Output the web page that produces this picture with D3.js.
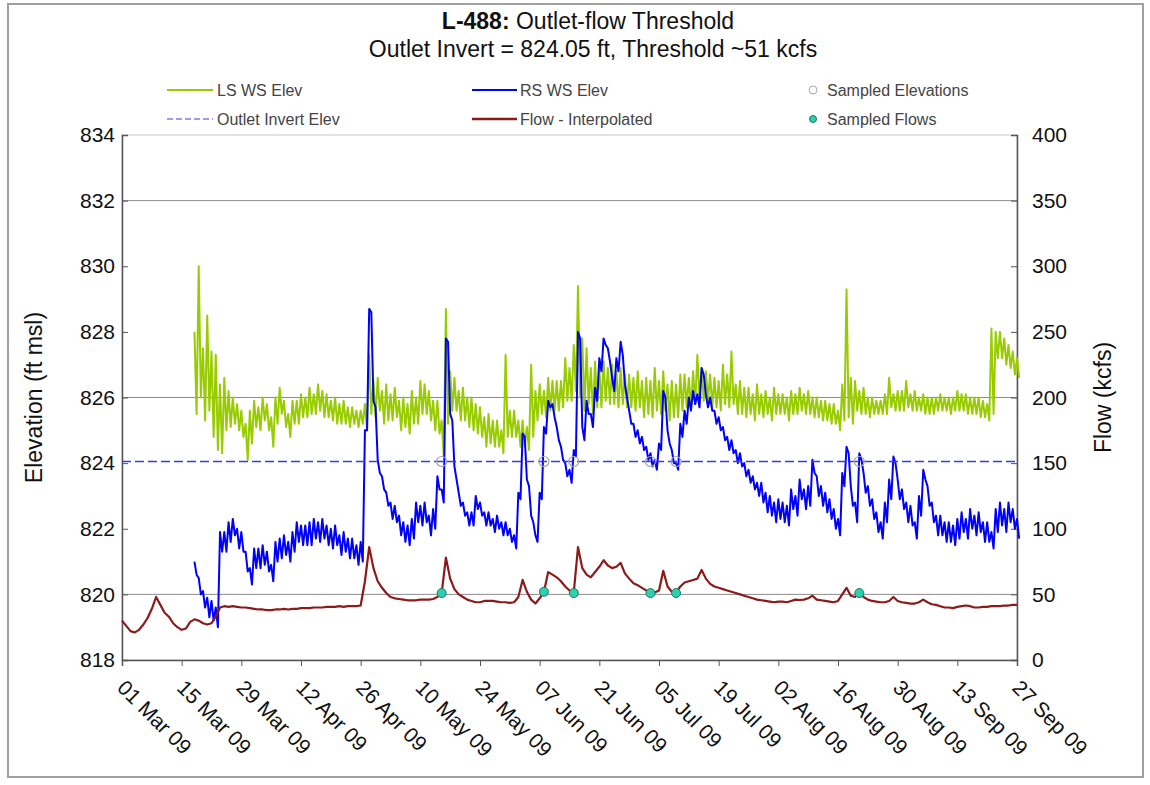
<!DOCTYPE html>
<html>
<head>
<meta charset="utf-8">
<script src="https://cdn.jsdelivr.net/npm/d3@7"></script>
<style>
  html, body { margin: 0; padding: 0; background: #ffffff; }
  svg { display: block; font-family: "Liberation Sans", Arial, sans-serif; }
</style>
</head>
<body>
<svg id="chart" width="1150" height="785"></svg>
<script>
// ---------------- DATA ----------------
const tickLabels = ["01 Mar 09","15 Mar 09","29 Mar 09","12 Apr 09","26 Apr 09","10 May 09","24 May 09",
  "07 Jun 09","21 Jun 09","05 Jul 09","19 Jul 09","02 Aug 09","16 Aug 09","30 Aug 09","13 Sep 09","27 Sep 09"];
const elevTicks = [818, 820, 822, 824, 826, 828, 830, 832, 834];
const flowTicks = [0, 50, 100, 150, 200, 250, 300, 350, 400];
const gridElev = [820, 826, 832];

// LS WS Elev (ft msl): daily high / daily low, starting 18 Mar 09
const lsStart = "2009-03-18";
const lsHigh = [
  828.0, 830.0, 827.5, 828.5, 827.4, 827.3, 826.4, 826.6, 826.2, 826.0,
  825.8, 825.6, 825.2, 825.6, 825.9, 825.7, 826.0, 825.8, 825.4, 826.0,
  826.3, 825.9, 825.5, 825.9, 825.9, 826.1, 826.0, 826.3, 826.1, 826.4,
  826.2, 826.1, 825.9, 826.0, 825.8, 825.9, 825.7, 825.7, 825.6, 825.6,
  825.8, 827.3, 826.5, 826.6, 826.2, 826.4, 826.1, 826.3, 825.9, 826.0,
  825.8, 826.2, 826.0, 826.5, 826.4, 826.2, 825.9, 825.9, 825.3, 828.7,
  826.8, 826.6, 826.2, 826.3, 826.0, 826.0, 825.8, 825.7, 825.4, 825.5,
  825.3, 825.3, 825.0, 827.3, 825.6, 825.6, 825.3, 825.3, 825.1, 827.0,
  826.2, 826.4, 826.2, 826.6, 826.5, 826.5, 826.5, 827.2, 826.9, 827.6,
  829.4, 827.8, 827.5, 826.9, 827.1, 826.9, 827.1, 826.9, 827.0, 826.8,
  826.9, 826.7, 826.7, 826.6, 826.8, 826.5, 826.6, 826.5, 826.9, 826.5,
  826.8, 826.4, 826.5, 826.4, 826.7, 826.7, 826.6, 826.8, 827.3, 826.9,
  826.8, 826.7, 826.6, 826.5, 827.0, 826.7, 827.4, 826.4, 826.5, 826.3,
  826.3, 826.1, 826.4, 826.1, 826.2, 826.0, 826.3, 826.1, 826.1, 826.0,
  826.2, 826.1, 826.3, 826.1, 826.2, 826.0, 826.0, 825.9, 825.9, 825.8,
  825.8, 825.6, 826.4, 829.3, 826.6, 826.5, 826.2, 826.3, 826.0, 826.0,
  825.9, 825.9, 826.1, 826.6, 826.1, 826.2, 826.2, 826.5, 826.1, 826.2,
  826.0, 826.1, 826.0, 826.0, 826.0, 826.1, 826.0, 826.0, 826.0, 826.2,
  826.1, 826.1, 826.0, 826.0, 826.0, 825.9, 825.8, 828.1, 828.0, 828.0,
  827.8, 827.6, 827.4, 827.2
];
const lsLow = [
  825.5, 826.0, 825.3, 825.6, 824.8, 824.4, 824.3, 825.0, 825.1, 825.2,
  825.0, 824.8, 824.1, 824.6, 825.1, 825.0, 825.3, 825.0, 824.5, 825.2,
  825.5, 825.1, 824.8, 825.2, 825.2, 825.4, 825.4, 825.5, 825.5, 825.6,
  825.4, 825.4, 825.3, 825.2, 825.2, 825.2, 825.1, 825.2, 825.1, 825.2,
  825.0, 825.5, 825.4, 825.6, 825.2, 825.3, 825.3, 825.4, 825.0, 825.1,
  824.9, 825.2, 825.2, 825.5, 825.5, 825.3, 825.0, 824.9, 824.2, 825.2,
  825.6, 825.6, 825.3, 825.3, 825.1, 825.0, 824.9, 824.8, 824.5, 824.6,
  824.5, 824.5, 824.3, 824.8, 824.8, 824.8, 824.5, 824.5, 824.4, 824.8,
  825.3, 825.5, 825.4, 825.6, 825.6, 825.6, 825.7, 825.9, 825.9, 826.2,
  826.0, 825.6, 825.8, 825.5, 825.7, 825.7, 825.9, 825.8, 825.8, 825.7,
  825.8, 825.7, 825.7, 825.6, 825.7, 825.4, 825.5, 825.4, 825.6, 825.5,
  825.6, 825.3, 825.4, 825.4, 825.6, 825.7, 825.7, 825.8, 826.0, 825.9,
  825.9, 825.7, 825.7, 825.6, 825.8, 825.7, 825.8, 825.5, 825.5, 825.4,
  825.5, 825.3, 825.5, 825.4, 825.5, 825.3, 825.5, 825.5, 825.5, 825.3,
  825.5, 825.5, 825.6, 825.5, 825.5, 825.4, 825.4, 825.3, 825.3, 825.2,
  825.2, 825.0, 825.3, 825.4, 825.2, 825.6, 825.5, 825.5, 825.4, 825.5,
  825.5, 825.5, 825.5, 825.7, 825.6, 825.6, 825.6, 825.7, 825.6, 825.6,
  825.6, 825.5, 825.5, 825.5, 825.6, 825.6, 825.6, 825.5, 825.6, 825.6,
  825.6, 825.5, 825.5, 825.5, 825.4, 825.4, 825.3, 825.5, 827.2, 827.2,
  827.0, 826.9, 826.7, 826.6
];

// RS WS Elev (ft msl): daily high / daily low, starting 18 Mar 09
const rsStart = "2009-03-18";
const rsHigh = [
  821.0, 820.5, 820.1, 819.9, 819.8, 819.6, 821.9, 821.9, 822.2, 822.3,
  822.0, 821.9, 821.3, 820.8, 821.4, 821.4, 821.5, 821.3, 820.9, 821.6,
  821.7, 821.8, 821.6, 821.9, 822.2, 822.1, 822.1, 822.2, 822.3, 822.2,
  822.3, 822.1, 822.0, 822.1, 821.8, 821.9, 821.7, 821.7, 821.5, 821.6,
  825.0, 828.7, 825.9, 824.1, 823.6, 823.1, 822.8, 822.7, 822.4, 822.2,
  822.1, 822.3, 822.8, 822.7, 822.8, 822.4, 822.6, 823.6, 823.2, 827.8,
  825.5, 823.9, 823.1, 822.8, 822.5, 822.5, 823.0, 822.8, 822.5, 822.5,
  822.3, 822.4, 822.2, 822.2, 822.0, 821.8, 823.1, 824.9, 823.5, 822.4,
  821.8, 823.1, 825.1, 825.9, 825.8, 825.1, 824.5, 824.0, 823.8, 824.4,
  828.0, 825.1, 825.9, 825.5, 826.3, 827.2, 827.8, 827.5, 826.6, 827.2,
  827.7, 826.4, 825.6, 825.2, 825.0, 824.8, 824.5, 824.3, 824.1, 824.6,
  826.2, 825.0, 824.4, 824.0, 825.2, 825.6, 826.0, 826.2, 826.1, 826.9,
  826.1, 826.0, 825.6, 825.4, 825.1, 824.8, 824.7, 824.4, 824.3, 824.0,
  823.8, 823.6, 823.4, 823.4, 823.1, 823.0, 822.8, 822.9, 822.8, 822.7,
  823.2, 823.0, 823.5, 823.2, 823.3, 824.1, 823.6, 823.3, 823.1, 822.9,
  822.6, 822.3, 823.7, 824.5, 823.3, 822.8, 824.3, 823.7, 823.3, 822.9,
  822.5, 822.2, 822.8, 823.5, 824.2, 823.5, 823.2, 822.8, 822.7, 822.2,
  823.0, 823.8, 823.3, 822.8, 822.4, 822.4, 822.2, 822.2, 822.1, 822.3,
  822.5, 822.3, 822.6, 822.4, 822.5, 822.2, 822.2, 821.9, 822.6, 822.8,
  822.6, 822.8, 822.6, 822.3
];
const rsLow = [
  820.6, 820.0, 819.6, 819.3, 819.2, 819.0, 821.3, 821.3, 821.6, 821.8,
  821.4, 821.3, 820.7, 820.3, 820.8, 820.8, 820.9, 820.7, 820.4, 821.0,
  821.1, 821.2, 821.0, 821.3, 821.6, 821.5, 821.5, 821.5, 821.7, 821.6,
  821.7, 821.5, 821.4, 821.5, 821.2, 821.3, 821.1, 821.1, 820.9, 821.0,
  825.0, 828.6, 825.7, 823.7, 823.2, 822.7, 822.3, 822.2, 821.8, 821.6,
  821.5, 821.7, 822.2, 822.1, 822.2, 821.8, 822.0, 823.2, 822.8, 827.7,
  825.3, 823.5, 822.7, 822.4, 822.1, 822.1, 822.6, 822.4, 822.1, 822.1,
  821.9, 822.0, 821.8, 821.8, 821.6, 821.4, 822.9, 824.8, 823.3, 822.2,
  821.6, 822.9, 824.9, 825.7, 825.4, 824.7, 824.1, 823.6, 823.4, 824.2,
  827.8, 824.7, 825.5, 825.1, 825.9, 826.8, 827.6, 827.1, 826.2, 826.8,
  827.3, 826.0, 825.2, 824.8, 824.6, 824.4, 824.1, 823.9, 823.8, 824.4,
  826.0, 824.6, 824.0, 823.8, 824.8, 825.2, 825.6, 825.8, 825.7, 826.7,
  825.7, 825.6, 825.2, 825.0, 824.7, 824.4, 824.3, 824.0, 823.9, 823.6,
  823.4, 823.2, 823.0, 822.8, 822.5, 822.4, 822.2, 822.3, 822.2, 822.1,
  822.6, 822.4, 822.9, 822.6, 822.7, 823.7, 823.0, 822.7, 822.5, 822.3,
  822.0, 821.8, 823.3, 824.3, 822.7, 822.2, 824.1, 823.1, 822.7, 822.3,
  821.9, 821.7, 822.2, 822.9, 824.0, 822.9, 822.6, 822.2, 822.1, 821.7,
  822.4, 823.5, 822.7, 822.2, 821.8, 821.8, 821.6, 821.6, 821.5, 821.7,
  821.9, 821.7, 822.0, 821.8, 821.9, 821.6, 821.6, 821.4, 821.9, 822.1,
  821.9, 822.2, 822.0, 821.7
];

// Flow - Interpolated (kcfs), one value per day starting 01 Mar 09
const flowStart = "2009-03-01";
const flowKcfs = [
  30, 26, 22, 21, 23, 27, 32, 39, 48, 42,
  36, 33, 28, 25, 23, 24, 29, 31, 30, 28,
  27, 28, 33, 40, 41, 40.5, 41, 40.5, 40, 40,
  39.5, 39, 38.5, 38.5, 38, 38, 38.5, 38.5, 39, 38.5,
  39, 39, 39.5, 39.5, 39.5, 40, 40, 40, 40.5, 40.5,
  40.5, 41, 40.5, 41, 41, 41, 41.5, 60, 86, 70,
  60, 55, 51, 48, 47, 46.5, 46, 45.5, 45.5, 45.5,
  46, 46, 46, 46.5, 48, 51, 78, 62, 54, 50,
  48, 46, 45, 44, 44, 45, 45, 45, 44.5, 44,
  44, 43.5, 44, 48, 61, 52, 46, 43, 47, 52,
  67, 65, 63, 60, 56, 53, 51.5, 86, 70, 65,
  63, 67, 71, 76, 72, 70, 71, 74, 66, 62,
  58.5, 57, 55, 53, 52, 51.5, 53, 68, 56, 52,
  51.5, 56, 59, 60, 61, 62, 68.6, 62, 58, 56,
  55, 54, 53, 52, 51, 50, 49, 48, 47, 46,
  45.5, 45, 44.5, 44, 44.5, 44.5, 44, 45, 46, 45.7,
  46, 47, 49, 46, 45.5, 45, 44.5, 44, 45, 50,
  55, 49, 48, 51, 48, 46, 45, 44.5, 44, 44,
  45, 48, 45, 44, 43.5, 43, 43, 44, 46, 44,
  42.5, 42, 41, 40, 40, 39.5, 40.5, 41, 41.5, 41,
  40, 40, 40.5, 40.5, 41, 41, 41, 41.5, 41.5, 42,
  42
];

const outletInvert = 824.05;
const sampleDates = ["2009-05-15", "2009-06-08", "2009-06-15", "2009-07-03", "2009-07-09", "2009-08-21"];
const sampledElev = [824.05, 824.05, 824.05, 824.05, 824.05, 824.05];
const sampledFlow = [51, 52, 51, 51, 51, 51];

const legendLabels = ["LS WS Elev", "RS WS Elev", "Sampled Elevations", "Outlet Invert Elev", "Flow - Interpolated", "Sampled Flows"];

// ---------------- CHART ----------------
const svg = d3.select("#chart");
const parseISO = d3.utcParse("%Y-%m-%d");
const parseTick = d3.utcParse("%d %b %y");
const L = 122, R = 1017, T = 135, B = 660;

const x = d3.scaleUtc().domain([parseTick(tickLabels[0]), parseTick(tickLabels[tickLabels.length - 1])]).range([L, R]);
const yL = d3.scaleLinear().domain([818, 834]).range([B, T]);
const yR = d3.scaleLinear().domain([0, 400]).range([B, T]);

const C = { ls: "#99cc00", rs: "#0000ff", inv: "#3b3be6", flow: "#8b1a1a", grid: "#8c8c8c", axis: "#555555", text: "#111111" };
const FONT = "Liberation Sans, Arial, sans-serif";

// outer frame
svg.append("rect").attr("x", 8).attr("y", 4).attr("width", 1135).attr("height", 773)
  .attr("fill", "none").attr("stroke", "#a0a0a0").attr("stroke-width", 2);

// title
const title = svg.append("text").attr("x", 588).attr("y", 29).attr("text-anchor", "middle")
  .attr("font-size", 23).attr("fill", C.text);
title.append("tspan").attr("font-weight", "bold").text("L-488:");
title.append("tspan").text(" Outlet-flow Threshold");
svg.append("text").attr("x", 593).attr("y", 57).attr("text-anchor", "middle")
  .attr("font-size", 23).attr("fill", C.text).text("Outlet Invert = 824.05 ft, Threshold ~51 kcfs");

// plot border
svg.append("rect").attr("x", L).attr("y", T).attr("width", R - L).attr("height", B - T)
  .attr("fill", "none").attr("stroke", "#c8c8c8").attr("stroke-width", 1);

// gridlines
svg.append("g").selectAll("line").data(gridElev).join("line")
  .attr("x1", L).attr("x2", R).attr("y1", d => yL(d)).attr("y2", d => yL(d))
  .attr("stroke", C.grid).attr("stroke-width", 1);

// axes
const axL = svg.append("g").attr("transform", `translate(${L},0)`)
  .call(d3.axisLeft(yL).tickValues(elevTicks).tickSize(-6).tickPadding(7).tickFormat(d3.format("d")));
const axR = svg.append("g").attr("transform", `translate(${R},0)`)
  .call(d3.axisRight(yR).tickValues(flowTicks).tickSize(-6).tickPadding(15).tickFormat(d3.format("d")));
const tickDates = tickLabels.map(parseTick);
const axB = svg.append("g").attr("transform", `translate(0,${B})`)
  .call(d3.axisBottom(x).tickValues(tickDates).tickSize(6).tickFormat(""));
[axL, axR, axB].forEach(a => {
  a.select(".domain").attr("stroke", C.axis).attr("stroke-width", 1.5);
  a.selectAll(".tick line").attr("stroke", C.axis);
  a.selectAll("text").attr("font-size", 21).attr("fill", C.text).attr("font-family", FONT);
});

// x tick labels, rotated
svg.append("g").selectAll("text").data(tickLabels).join("text")
  .attr("transform", (d, i) => `translate(${x(tickDates[i]) - 6},${B + 29}) rotate(45)`)
  .attr("font-size", 21).attr("fill", C.text).text(d => d);

// axis titles
svg.append("text").attr("transform", `translate(42,${(T + B) / 2}) rotate(-90)`).attr("text-anchor", "middle")
  .attr("font-size", 23).attr("fill", C.text).text("Elevation (ft msl)");
svg.append("text").attr("transform", `translate(1111,${(T + B) / 2}) rotate(-90)`).attr("text-anchor", "middle")
  .attr("font-size", 23).attr("fill", C.text).text("Flow (kcfs)");

// series builders
function daily(start, vals) {
  const s = parseISO(start);
  return vals.map((v, i) => ({ t: d3.utcDay.offset(s, i), v }));
}
// daily high at midnight, daily low at noon -> diurnal oscillation band
function diurnal(start, hi, lo) {
  const s = parseISO(start);
  return hi.flatMap((h, i) => {
    const day = d3.utcDay.offset(s, i);
    return [{ t: day, v: h }, { t: d3.utcHour.offset(day, 12), v: lo[i] }];
  });
}
const lineL = d3.line().x(d => x(d.t)).y(d => yL(d.v));
const lineR = d3.line().x(d => x(d.t)).y(d => yR(d.v));

svg.append("path").datum(diurnal(lsStart, lsHigh, lsLow)).attr("d", lineL)
  .attr("fill", "none").attr("stroke", C.ls).attr("stroke-width", 2).attr("stroke-linejoin", "round");
svg.append("path").datum(diurnal(rsStart, rsHigh, rsLow)).attr("d", lineL)
  .attr("fill", "none").attr("stroke", C.rs).attr("stroke-width", 2).attr("stroke-linejoin", "round");
svg.append("line").attr("x1", L).attr("x2", R).attr("y1", yL(outletInvert)).attr("y2", yL(outletInvert))
  .attr("stroke", C.inv).attr("stroke-width", 1.3).attr("stroke-dasharray", "9,4");
svg.append("path").datum(daily(flowStart, flowKcfs)).attr("d", lineR)
  .attr("fill", "none").attr("stroke", C.flow).attr("stroke-width", 2.2).attr("stroke-linejoin", "round");

// sampled markers
svg.append("g").selectAll("circle").data(sampleDates).join("circle")
  .attr("cx", d => x(parseISO(d))).attr("cy", (d, i) => yL(sampledElev[i])).attr("r", 5)
  .attr("fill", "none").attr("stroke", "#a8a8a8").attr("stroke-width", 1.2);
svg.append("g").selectAll("circle").data(sampleDates).join("circle")
  .attr("cx", d => x(parseISO(d))).attr("cy", (d, i) => yR(sampledFlow[i])).attr("r", 4.5)
  .attr("fill", "#2ccfb0").attr("stroke", "#1f7a5c").attr("stroke-width", 1);

// legend
const legY = [90, 119];
const lg = svg.append("g").attr("font-size", 16).attr("fill", "#444");
function legText(xp, yp, t) { lg.append("text").attr("x", xp).attr("y", yp + 6).text(t); }
lg.append("line").attr("x1", 167).attr("x2", 213).attr("y1", legY[0]).attr("y2", legY[0]).attr("stroke", C.ls).attr("stroke-width", 2);
legText(217, legY[0], legendLabels[0]);
lg.append("line").attr("x1", 472).attr("x2", 517).attr("y1", legY[0]).attr("y2", legY[0]).attr("stroke", C.rs).attr("stroke-width", 2);
legText(520, legY[0], legendLabels[1]);
lg.append("circle").attr("cx", 813).attr("cy", legY[0]).attr("r", 4).attr("fill", "none").attr("stroke", "#a8a8a8");
legText(827, legY[0], legendLabels[2]);
lg.append("line").attr("x1", 167).attr("x2", 213).attr("y1", legY[1]).attr("y2", legY[1]).attr("stroke", C.inv).attr("stroke-width", 1.2).attr("stroke-dasharray", "6,3");
legText(217, legY[1], legendLabels[3]);
lg.append("line").attr("x1", 472).attr("x2", 517).attr("y1", legY[1]).attr("y2", legY[1]).attr("stroke", C.flow).attr("stroke-width", 2.5);
legText(520, legY[1], legendLabels[4]);
lg.append("circle").attr("cx", 813).attr("cy", legY[1]).attr("r", 3.5).attr("fill", "#2ccfb0").attr("stroke", "#1f7a5c");
legText(827, legY[1], legendLabels[5]);
</script>
</body>
</html>
